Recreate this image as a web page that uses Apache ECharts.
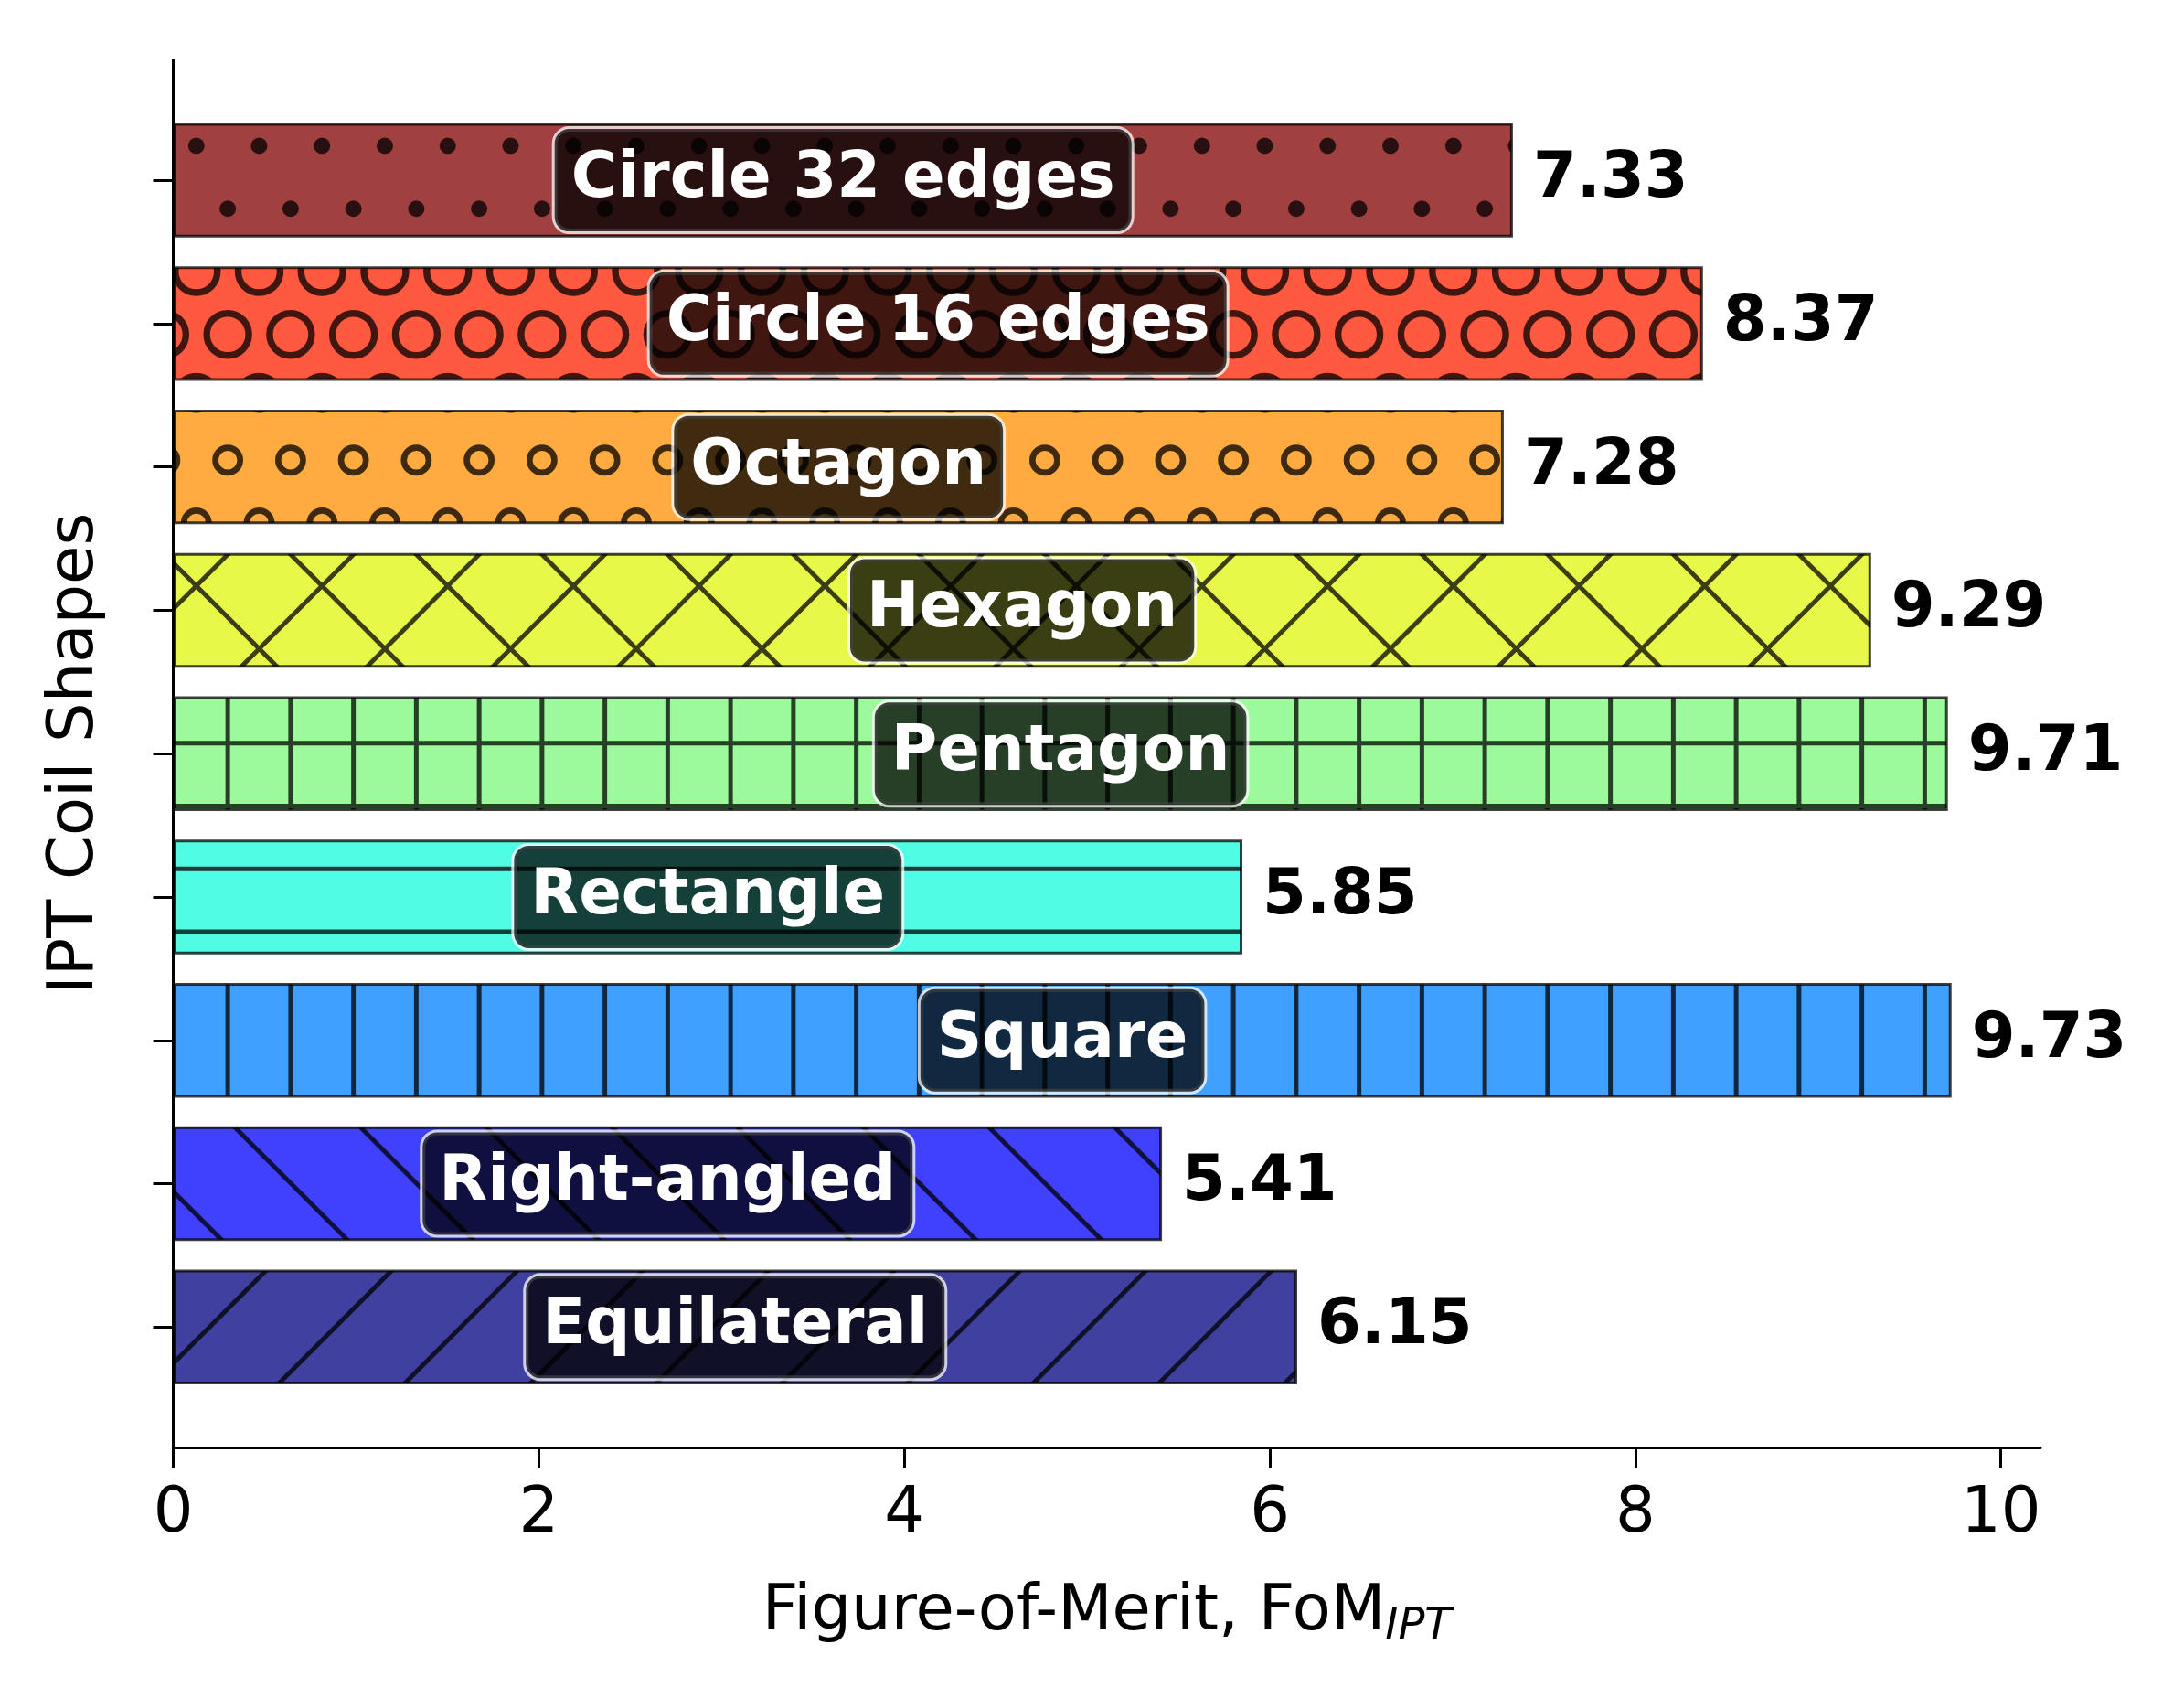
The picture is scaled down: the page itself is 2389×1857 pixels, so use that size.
<!DOCTYPE html>
<html>
<head>
<meta charset="utf-8">
<script src="https://cdn.jsdelivr.net/npm/echarts@6/dist/echarts.min.js"></script>
<style>
html,body{margin:0;padding:0;background:#ffffff;}
#c{width:2389px;height:1857px;}
</style>
</head>
<body>
<div id="c"></div>
<script>
// ---- data ----
const categories = ['Circle 32 edges', 'Circle 16 edges', 'Octagon', 'Hexagon', 'Pentagon', 'Rectangle', 'Square', 'Right-angled', 'Equilateral'];
const fomValues = [7.33, 8.37, 7.28, 9.29, 9.71, 5.85, 9.73, 5.41, 6.15];
const barColors = ['#a04040', '#ff5940', '#ffab40', '#e8f848', '#9cfa9c', '#50fde4', '#40a0ff', '#4040ff', '#4040a0'];
const hatches = ['.', 'O', 'o', 'x', '+', '-', '|', '\\', '/'];
const xTicks = [0, 2, 4, 6, 8, 10];
const xMax = 10.2165;
const yMin = -0.84, yMax = 8.84;
const xTitle = 'Figure-of-Merit, FoM';
const xTitleSub = 'IPT';
const yTitle = 'IPT Coil Shapes';

// ---- layout ----
const W = 2389, H = 1857;
const axL = 189.5, axR = 2232, axT = 65.4, axB = 1583;
const u = (axB - axT) / (yMax - yMin);
const gATop = axT + (-0.5 - yMin) * u;
const gABottom = H - (axB - (yMax - (categories.length - 0.5)) * u);
const FONT = 'DejaVu Sans';
const FS = 68.75;

// ---- hatch pattern tiles (matplotlib-like hatching) ----
function hatchTile(bg, h) {
  const T = 275, P = 68.75, X0 = 8.5, Y0 = 22, LW = 5;
  const tile = document.createElement('canvas'); tile.width = T; tile.height = T;
  const ink = document.createElement('canvas'); ink.width = T; ink.height = T;
  const g = ink.getContext('2d');
  g.strokeStyle = '#000'; g.fillStyle = '#000'; g.lineWidth = LW;
  const line = (x1, y1, x2, y2) => { g.beginPath(); g.moveTo(x1, y1); g.lineTo(x2, y2); g.stroke(); };
  if (h === '|' || h === '+') for (let k = -1; k <= 5; k++) { const x = X0 + P / 2 + k * P; line(x, -10, x, T + 10); }
  if (h === '-' || h === '+') for (let k = -1; k <= 5; k++) { const y = Y0 + P / 2 + k * P; line(-10, y, T + 10, y); }
  if (h === '/' || h === 'x') for (let k = -2; k <= 6; k++) { const c = X0 + Y0 + k * 2 * P; line(c + 20, -20, c - T - 20, T + 20); }
  if (h === '\\' || h === 'x') for (let k = -4; k <= 4; k++) { const d = Y0 - X0 + k * 2 * P; line(-20, d - 20, T + 20, d + T + 20); }
  if (h === '.' || h === 'o' || h === 'O') {
    for (let r = -1; r <= 5; r++) {
      for (let c = -1; c <= 5; c++) {
        const y = Y0 + r * P;
        const x = X0 + c * P + (((r % 2) + 2) % 2 ? P / 2 : 0);
        g.beginPath();
        if (h === '.') { g.arc(x, y, 9, 0, 2 * Math.PI); g.fill(); }
        else {
          const R = h === 'o' ? 13.6 : 23;
          g.lineWidth = h === 'o' ? 6.6 : 7.4;
          g.arc(x, y, R, 0, 2 * Math.PI); g.stroke();
        }
      }
    }
  }
  const t = tile.getContext('2d');
  t.fillStyle = bg; t.fillRect(0, 0, T, T);
  t.globalAlpha = 0.75; t.drawImage(ink, 0, 0);
  return { image: tile, repeat: 'repeat' };
}

const chart = echarts.init(document.getElementById('c'), null, { renderer: 'canvas', width: W, height: H });

const option = {
  animation: false,
  backgroundColor: '#ffffff',
  textStyle: { fontFamily: FONT },
  grid: [
    { left: axL, right: W - axR, top: gATop, bottom: gABottom },
    { left: axL, right: W - axR, top: axT, bottom: H - axB }
  ],
  xAxis: [
    { gridIndex: 0, type: 'value', min: 0, max: xMax, show: false },
    {
      gridIndex: 1, type: 'value', min: 0, max: xMax,
      axisLine: { show: true, onZero: false, lineStyle: { color: '#000', width: 3 } },
      axisTick: { show: true, length: 22, customValues: xTicks, lineStyle: { color: '#000', width: 3 } },
      axisLabel: { show: true, customValues: xTicks, fontSize: FS, color: '#000', margin: 40, fontFamily: FONT, lineHeight: 69 },
      splitLine: { show: false },
      name: '{a|' + xTitle + '}{s|' + xTitleSub + '}',
      nameLocation: 'middle', nameGap: 141,
      nameTextStyle: {
        color: '#000', fontFamily: FONT, fontSize: FS,
        rich: {
          a: { fontSize: FS, lineHeight: 80, color: '#000', fontFamily: FONT },
          s: { fontSize: 48, fontStyle: 'italic', lineHeight: 42, verticalAlign: 'bottom', color: '#000', fontFamily: FONT }
        }
      }
    }
  ],
  yAxis: [
    {
      gridIndex: 0, type: 'category', data: categories, inverse: true,
      axisLine: { show: false, onZero: false },
      axisTick: { show: true, alignWithLabel: true, length: 22, lineStyle: { color: '#000', width: 3 } },
      axisLabel: { show: false },
      splitLine: { show: false }
    },
    {
      gridIndex: 1, type: 'value', min: yMin, max: yMax, inverse: true,
      axisLine: { show: true, onZero: false, lineStyle: { color: '#000', width: 3 } },
      axisTick: { show: false },
      axisLabel: { show: false },
      splitLine: { show: false },
      name: yTitle, nameLocation: 'middle', nameGap: 66,
      nameTextStyle: { fontSize: FS, color: '#000', fontFamily: FONT, lineHeight: 80 }
    }
  ],
  series: [
    {
      type: 'bar', xAxisIndex: 0, yAxisIndex: 0,
      barWidth: '80%', barGap: '-100%',
      data: fomValues.map((v, i) => ({ value: v, itemStyle: { color: hatchTile(barColors[i], hatches[i]) } })),
      itemStyle: { borderColor: 'rgba(0,0,0,0.75)', borderWidth: 3 },
      label: {
        show: true, position: 'inside', formatter: '{b}',
        color: '#ffffff', fontWeight: 'bold', fontSize: FS, fontFamily: FONT, lineHeight: 80,
        backgroundColor: 'rgba(0,0,0,0.75)', borderColor: 'rgba(255,255,255,0.75)', borderWidth: 3, borderRadius: 16,
        padding: [16, 18], textBorderWidth: 0, textShadowBlur: 0
      },
      emphasis: { disabled: true }
    },
    {
      type: 'bar', xAxisIndex: 0, yAxisIndex: 0,
      barWidth: '80%', barGap: '-100%', silent: true,
      data: fomValues,
      itemStyle: { color: 'rgba(0,0,0,0)' },
      label: {
        show: true, position: 'right', distance: 22,
        formatter: p => p.value.toFixed(2),
        color: '#000', fontWeight: 'bold', fontSize: FS, fontFamily: FONT,
        textBorderWidth: 0
      },
      emphasis: { disabled: true }
    }
  ]
};
chart.setOption(option);
</script>
</body>
</html>
